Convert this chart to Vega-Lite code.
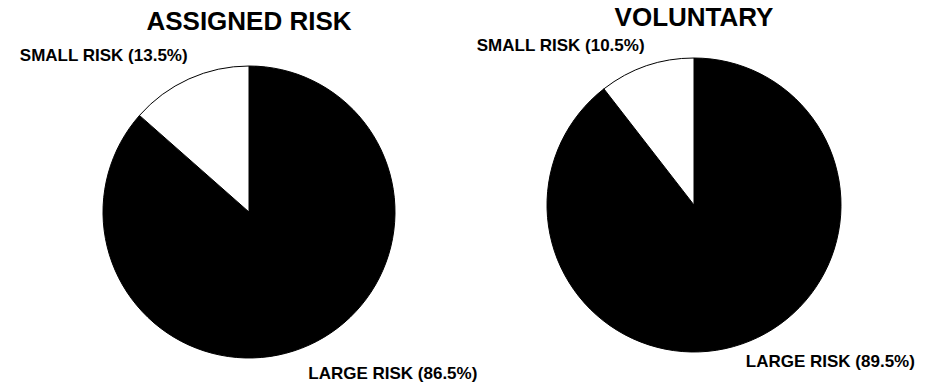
{
  "$schema": "https://vega.github.io/schema/vega-lite/v6.json",
  "padding": {"left": 19, "top": 5, "right": 5, "bottom": 5},
  "background": "white",
  "bounds": "flush",
  "spacing": 45,
  "data": {"values": [
    {"group": "ASSIGNED RISK", "risk": "Large", "share": 86.5, "label": "LARGE RISK (86.5%)"},
    {"group": "ASSIGNED RISK", "risk": "Small", "share": 13.5, "label": "SMALL RISK (13.5%)"},
    {"group": "VOLUNTARY", "risk": "Large", "share": 89.5, "label": "LARGE RISK (89.5%)"},
    {"group": "VOLUNTARY", "risk": "Small", "share": 10.5, "label": "SMALL RISK (10.5%)"}
  ]},
  "config": {
    "view": {"stroke": null},
    "font": "Liberation Sans",
    "title": {"fontSize": 26, "fontWeight": "bold", "color": "black", "offset": 6}
  },
  "hconcat": [
    {
      "title": "ASSIGNED RISK",
      "width": 400,
      "height": 316,
      "transform": [{"filter": "datum.group === 'ASSIGNED RISK'"}],
      "encoding": {
        "theta": {"field": "share", "type": "quantitative", "stack": true}
      },
      "layer": [
        {
          "mark": {"type": "arc", "outerRadius": 146, "stroke": "black", "strokeWidth": 1},
          "encoding": {
            "color": {"field": "risk", "type": "nominal", "scale": {"domain": ["Large", "Small"], "range": ["black", "white"]}, "legend": null}
          }
        },
        {
          "mark": {"type": "text", "radius": 171, "align": "right", "baseline": "middle", "fontSize": 17, "fontWeight": "bold", "color": "black", "dx": 9},
          "encoding": {
            "text": {"condition": {"test": "datum.risk === 'Small'", "field": "label"}, "value": ""}
          }
        },
        {
          "mark": {"type": "text", "radius": 178, "align": "left", "baseline": "middle", "fontSize": 17, "fontWeight": "bold", "color": "black", "dx": -14},
          "encoding": {
            "text": {"condition": {"test": "datum.risk === 'Large'", "field": "label"}, "value": ""}
          }
        }
      ]
    },
    {
      "title": "VOLUNTARY",
      "width": 400,
      "height": 302,
      "transform": [{"filter": "datum.group === 'VOLUNTARY'"}],
      "encoding": {
        "theta": {"field": "share", "type": "quantitative", "stack": true}
      },
      "layer": [
        {
          "mark": {"type": "arc", "outerRadius": 147, "stroke": "black", "strokeWidth": 1},
          "encoding": {
            "color": {"field": "risk", "type": "nominal", "scale": {"domain": ["Large", "Small"], "range": ["black", "white"]}, "legend": null}
          }
        },
        {
          "mark": {"type": "text", "radius": 168, "align": "right", "baseline": "middle", "fontSize": 17, "fontWeight": "bold", "color": "black", "dx": 5},
          "encoding": {
            "text": {"condition": {"test": "datum.risk === 'Small'", "field": "label"}, "value": ""}
          }
        },
        {
          "mark": {"type": "text", "radius": 166, "align": "left", "baseline": "middle", "fontSize": 17, "fontWeight": "bold", "color": "black", "dx": -2},
          "encoding": {
            "text": {"condition": {"test": "datum.risk === 'Large'", "field": "label"}, "value": ""}
          }
        }
      ]
    }
  ]
}
